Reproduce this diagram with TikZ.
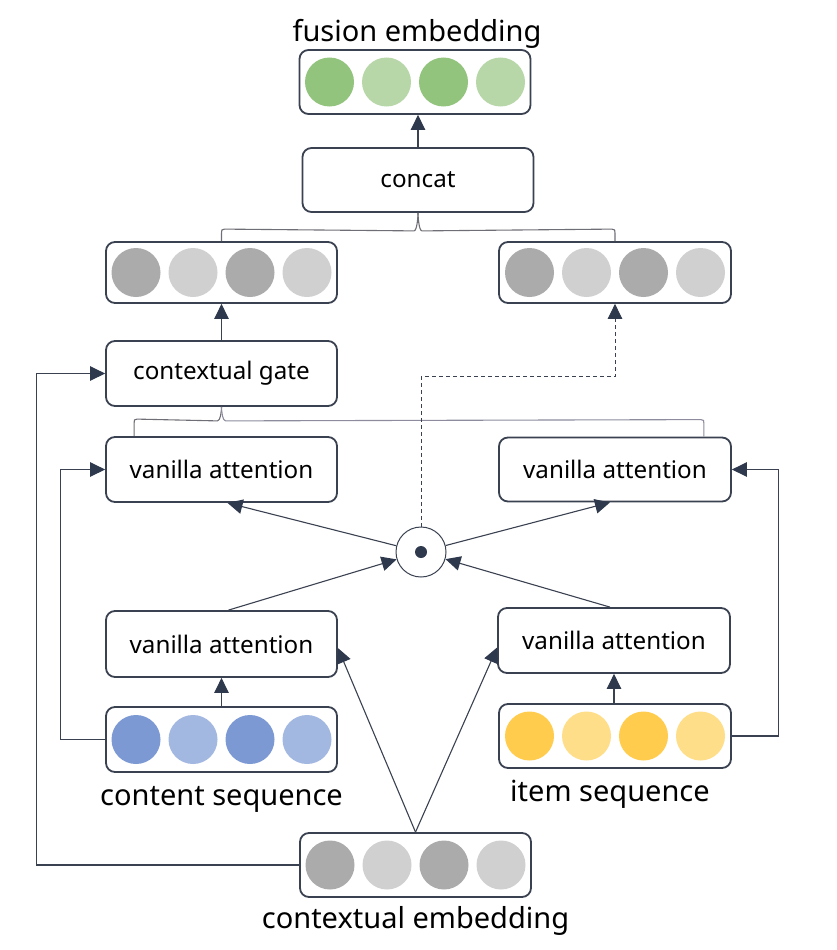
\documentclass[tikz,border=0pt]{standalone}
\usepackage{fontspec}
\setmainfont{Noto Sans}
\usetikzlibrary{arrows.meta,calc}
\definecolor{edge}{HTML}{3A4150}
\definecolor{tipc}{HTML}{2E394D}
\definecolor{brc}{HTML}{6E6E76}
\definecolor{brp}{HTML}{8C8C9E}
\definecolor{grD}{HTML}{93C47D}
\definecolor{grL}{HTML}{B7D7A8}
\definecolor{gyD}{HTML}{ABABAB}
\definecolor{gyL}{HTML}{D0D0D0}
\definecolor{blD}{HTML}{7C99D3}
\definecolor{blL}{HTML}{A3B8E1}
\definecolor{yeD}{HTML}{FFCC4D}
\definecolor{yeL}{HTML}{FFDE8A}
\begin{document}
\begin{tikzpicture}[x=1pt,y=-1pt,
  box/.style={draw=edge, line width=1.8pt, rounded corners=9pt, fill=white, inner sep=0pt,
    minimum width=231pt, minimum height=64pt, font=\fontsize{24.2}{28}\selectfont},
  ball/.style={circle, inner sep=0pt, minimum size=49pt, draw=none},
  arr/.style={draw=edge, line width=1.1pt, -{Triangle[length=15pt,width=14.5pt,color=tipc]}},
  brace/.style={draw=brc, line width=1.1pt},
  lbl/.style={anchor=base, inner sep=0pt, font=\fontsize{29}{33}\selectfont}]
\useasboundingbox (0,0) rectangle (836,950);

% boxes
\node[box, minimum height=64pt] (fus) at (415,82) {};
\node[box] (concat) at (418,180) {concat};
\node[box, minimum height=61pt] (mL) at (221.5,272.5) {};
\node[box, minimum height=61pt, minimum width=232pt] (mR) at (615,272.5) {};
\node[box, minimum height=65pt] (gate) at (221.5,373.5) {contextual gate};
\node[box, minimum height=65pt] (vaL) at (221.5,469.5) {vanilla attention};
\node[box, minimum width=232pt] (vaR) at (615,469.5) {vanilla attention};
\node[box, minimum height=66pt] (lvL) at (221.5,644) {vanilla attention};
\node[box, minimum height=65pt, minimum width=232pt] (lvR) at (614,640.5) {vanilla attention};
\node[box, minimum height=65pt] (cs) at (221.5,739.5) {};
\node[box, minimum height=64pt, minimum width=232pt] (is) at (615,736) {};
\node[box] (ce) at (415.5,865) {};
\node[circle, draw=edge, line width=1pt, minimum size=50pt, inner sep=0pt, fill=white] (dot) at (421,552) {};
\fill[tipc] (dot.center) circle (6);

% balls
\foreach \i/\dx/\c in {1/-85.5/grD,2/-28.5/grL,3/28.5/grD,4/85.5/grL}
  \node[ball, fill=\c] (fus-\i) at ($(fus)+(\dx,0)$) {};
\foreach \i/\dx/\c in {1/-85.5/gyD,2/-28.5/gyL,3/28.5/gyD,4/85.5/gyL}
  \node[ball, fill=\c] (mL-\i) at ($(mL)+(\dx,0)$) {};
\foreach \i/\dx/\c in {1/-85.5/gyD,2/-28.5/gyL,3/28.5/gyD,4/85.5/gyL}
  \node[ball, fill=\c] (mR-\i) at ($(mR)+(\dx,0)$) {};
\foreach \i/\dx/\c in {1/-85.5/blD,2/-28.5/blL,3/28.5/blD,4/85.5/blL}
  \node[ball, fill=\c] (cs-\i) at ($(cs)+(\dx,0)$) {};
\foreach \i/\dx/\c in {1/-85.5/yeD,2/-28.5/yeL,3/28.5/yeD,4/85.5/yeL}
  \node[ball, fill=\c] (is-\i) at ($(is)+(\dx,0)$) {};
\foreach \i/\dx/\c in {1/-85.5/gyD,2/-28.5/gyL,3/28.5/gyD,4/85.5/gyL}
  \node[ball, fill=\c] (ce-\i) at ($(ce)+(\dx,0)$) {};

% labels
\node[lbl] (fusl) at (417,42) {fusion embedding};
\node[lbl] (csl) at (221.5,805) {content sequence};
\node[lbl] (isl) at (610,801) {item sequence};
\node[lbl] (cel) at (415.5,928) {contextual embedding};

% braces
\draw[brace] (mL.north) -- ++(0,-8) .. controls +(0,-3) and +(-3,0) .. ++(3,-4)
  -- ($(concat.south)+(-4,18)$) .. controls +(3,0) and +(0,4) .. (concat.south);
\draw[brace] (mR.north) -- ++(0,-8) .. controls +(0,-3) and +(3,0) .. ++(-3,-4)
  -- ($(concat.south)+(4,18)$) .. controls +(-3,0) and +(0,4) .. (concat.south);
\draw[brace] ($(vaL.north west)+(29,0)$) -- ++(0,-13) .. controls +(0,-3) and +(-3,0) .. ++(3,-4)
  -- ($(gate.south)+(-4,14)$) .. controls +(3,0) and +(0,4) .. (gate.south);
\draw[brace, draw=brp] ($(vaR.north east)+(-28,0)$) -- ++(0,-13) .. controls +(0,-3) and +(3,0) .. ++(-3,-4)
  -- ($(gate.south)+(4,14)$) .. controls +(-3,0) and +(0,4) .. (gate.south);

% connectors
\draw[arr] (concat.north) -- (fus.south -| concat.north);
\draw[arr] (gate.north) -- (mL.south);
\draw[arr, dashed, dash pattern=on 4pt off 3pt, line width=0.9pt] (dot.north) |- ($(mR.south)+(0,73)$) -- (mR.south);
\draw[arr] (ce.west) -- ++(-263,0) |- (gate.west);
\draw[arr] (cs.west) -- ++(-45,0) |- (vaL.west);
\draw[arr] (is.east) -- ++(47,0) |- (vaR.east);
\draw[arr] (cs.north) -- (lvL.south);
\draw[arr] (is.north -| lvR.south) -- (lvR.south);
\draw[arr] (ce.north) -- ([yshift=-4pt]lvL.east);
\draw[arr] (ce.north) -- ([yshift=-7pt]lvR.west);
\draw[arr] ([xshift=7pt]lvL.north) -- (dot);
\draw[arr] ([xshift=-4pt]lvR.north) -- (dot);
\draw[arr] (dot) -- ([xshift=6pt]vaL.south);
\draw[arr] (dot) -- ([xshift=-5pt]vaR.south);
\end{tikzpicture}
\end{document}
